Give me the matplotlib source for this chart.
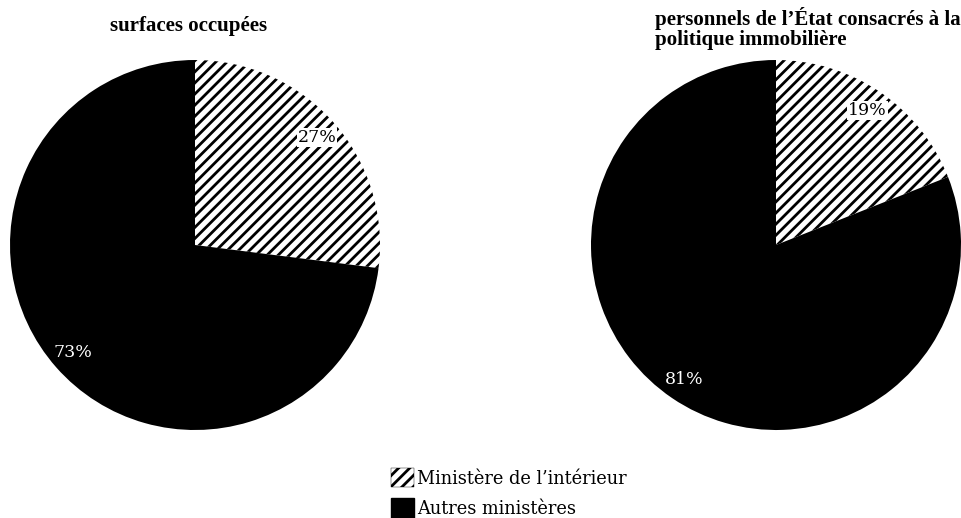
import matplotlib.pyplot as plt
from matplotlib.patches import Patch

plt.rcParams['font.family'] = ['DejaVu Serif']
plt.rcParams['hatch.linewidth'] = 2.0

labels = ["Ministère de l\u2019intérieur", "Autres ministères"]
surfaces = [27, 73]
personnels = [19, 81]
titles = ["surfaces occupées",
          "personnels de l\u2019État consacrés à la\npolitique immobilière"]


def draw_pie(ax, values):
    wedges, texts = ax.pie(values, startangle=90, counterclock=False,
                           colors=['white', 'black'],
                           labels=[f"{v}%" for v in values],
                           labeldistance=0.88,
                           wedgeprops=dict(edgecolor='black', linewidth=0))
    wedges[0].set_hatch('///')
    texts[0].set_color('black')
    texts[0].set_bbox(dict(facecolor='white', edgecolor='none', pad=0.5))
    texts[1].set_color('white')
    for t in texts:
        t.set_fontsize(12.5)
        t.set_ha('center')
        t.set_va('center')
    ax.set_xlim(-1, 1)
    ax.set_ylim(-1, 1)
    ax.set_aspect('equal')


def main():
    fig = plt.figure(figsize=(9.61, 5.18), dpi=100)
    ax1 = fig.add_axes([10 / 961, 88 / 518, 370 / 961, 370 / 518])
    ax2 = fig.add_axes([591 / 961, 88 / 518, 370 / 961, 370 / 518])
    draw_pie(ax1, surfaces)
    draw_pie(ax2, personnels)

    fig.text(110 / 961, 1 - 26 / 518, titles[0], fontsize=15, fontweight='bold',
             family='Liberation Serif', ha='left', va='center')
    fig.text(655 / 961, 1 - 29 / 518, titles[1], fontsize=15, fontweight='bold',
             family='Liberation Serif', ha='left', va='center', linespacing=1.0)

    handles = [Patch(facecolor='white', edgecolor='black', linewidth=0.3, hatch='///'),
               Patch(facecolor='black', edgecolor='black')]
    fig.legend(handles, labels, loc='center left', bbox_to_anchor=(375 / 961, 1 - 493 / 518),
               frameon=False, fontsize=12.8, handlelength=1.3, handleheight=1.3,
               handletextpad=0.15, labelspacing=0.6)

    fig.savefig('out.png', dpi=100)


if __name__ == '__main__':
    main()
